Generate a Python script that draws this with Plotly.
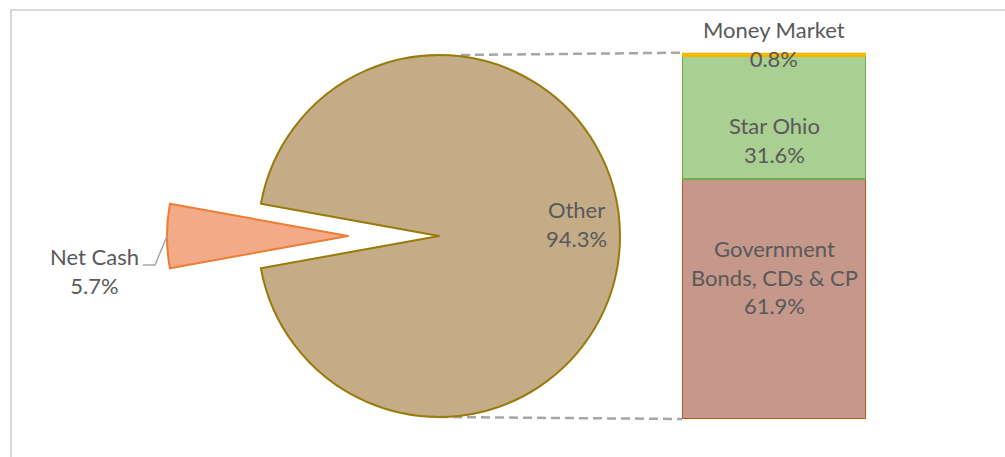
import plotly.graph_objects as go

# ---------------- data ----------------
pie_labels = ["Net Cash", "Other"]
pie_values = [5.7, 94.3]
pie_text = ["5.7%", "94.3%"]

bar_labels = ["Government<br>Bonds, CDs & CP", "Star Ohio", "Money Market"]
bar_values = [61.9, 31.6, 0.8]
bar_text = ["61.9%", "31.6%", "0.8%"]

# ---------------- styling / geometry ----------------
W, H = 1005, 457
CX, CY, R = 439, 236, 181          # main pie centre / radius (px)
PULL = 91                          # explode distance of Net Cash (px)
BAR_X0, BAR_X1 = 682, 866          # bar left/right (px)
BAR_TOP, BAR_BOT = 52.7, 419       # bar top/bottom (px)

FONT = "Lato, 'Open Sans', sans-serif"
TXT = "#595959"
FS = 22

pie_fill = ["#F3AA88", "#C4AC87"]
pie_line = ["#ED7D31", "#9A7A0A"]
bar_fill = ["#C5988B", "#A9CF92", "#FFC000"]
bar_line = ["#B4581E", "#70AD47", "#F0B400"]


def px_x(x):
    return x / W


def px_y(y):
    return (H - y) / H


total = sum(pie_values)
net_angle = pie_values[0] / total * 360
rot = 270 - net_angle / 2
if rot > 180:
    rot -= 360

fig = go.Figure()

# main pie: "Other" visible, Net Cash hidden
fig.add_trace(go.Pie(
    labels=pie_labels, values=pie_values, sort=False, direction="clockwise",
    rotation=rot, textinfo="none", hoverinfo="label+percent",
    marker=dict(colors=["rgba(0,0,0,0)", pie_fill[1]],
                line=dict(color=["rgba(0,0,0,0)", pie_line[1]], width=[0, 2])),
    domain=dict(x=[px_x(CX - R), px_x(CX + R)], y=[px_y(CY + R), px_y(CY - R)]),
    showlegend=False,
))

# exploded Net Cash slice
CX2 = CX - PULL
fig.add_trace(go.Pie(
    labels=pie_labels, values=pie_values, sort=False, direction="clockwise",
    rotation=rot, textinfo="none", hoverinfo="label+percent",
    marker=dict(colors=[pie_fill[0], "rgba(0,0,0,0)"],
                line=dict(color=[pie_line[0], "rgba(0,0,0,0)"], width=[2, 0])),
    domain=dict(x=[px_x(CX2 - R), px_x(CX2 + R)], y=[px_y(CY + R), px_y(CY - R)]),
    showlegend=False,
))

# stacked bar of "Other"
for lab, v, fc, lc in zip(bar_labels, bar_values, bar_fill, bar_line):
    fig.add_trace(go.Bar(
        x=[0], y=[v], width=1, name=lab,
        marker=dict(color=fc, line=dict(color=lc, width=2)),
        hoverinfo="name+y", showlegend=False,
    ))

bar_total = sum(bar_values)

fig.update_layout(
    width=W, height=H,
    margin=dict(l=0, r=0, t=0, b=0),
    paper_bgcolor="white", plot_bgcolor="white",
    barmode="stack", bargap=0,
    xaxis=dict(domain=[px_x(BAR_X0), px_x(BAR_X1)], range=[-0.5, 0.5],
               visible=False, fixedrange=True),
    yaxis=dict(domain=[px_y(BAR_BOT), px_y(BAR_TOP)], range=[0, bar_total],
               visible=False, fixedrange=True),
    font=dict(family=FONT, color=TXT, size=FS),
)

shapes = []
# outer frame
shapes.append(dict(type="rect", xref="paper", yref="paper",
                   x0=px_x(11), x1=1.05, y0=-0.05, y1=px_y(10),
                   line=dict(color="#D9D9D9", width=2), fillcolor="rgba(0,0,0,0)",
                   layer="below"))
# connector lines pie -> bar
dash_line = dict(color="#A6A6A6", width=2.5, dash="9px,5px")
shapes.append(dict(type="line", xref="paper", yref="paper",
                   x0=px_x(CX + 22), y0=px_y(CY - R), x1=px_x(BAR_X0), y1=px_y(BAR_TOP),
                   line=dash_line, layer="below"))
shapes.append(dict(type="line", xref="paper", yref="paper",
                   x0=px_x(CX), y0=px_y(CY + R), x1=px_x(BAR_X0), y1=px_y(BAR_BOT),
                   line=dash_line, layer="below"))
# Net Cash leader line
lx = CX2 - R
path = "M {} {} L {} {} L {} {}".format(
    px_x(lx), px_y(CY), px_x(lx - 12), px_y(CY + 29), px_x(lx - 24), px_y(CY + 29))
shapes.append(dict(type="path", xref="paper", yref="paper", path=path,
                   line=dict(color="#A6A6A6", width=1.5)))
fig.update_layout(shapes=shapes)

ann = []
# pie labels
ann.append(dict(xref="paper", yref="paper", x=px_x(lx - 26), y=px_y(270.5),
                xanchor="right", yanchor="middle", align="center", showarrow=False,
                text=f"{pie_labels[0]}<br>{pie_text[0]}"))
ann.append(dict(xref="paper", yref="paper", x=px_x(576), y=px_y(224),
                xanchor="center", yanchor="middle", align="center", showarrow=False,
                text=f"{pie_labels[1]}<br>{pie_text[1]}"))
# bar labels
cum = 0
shifts = [22, -23, 9]
for lab, v, t, s in zip(bar_labels, bar_values, bar_text, shifts):
    mid = cum + v / 2 if lab != bar_labels[-1] else cum + v
    ann.append(dict(xref="x", yref="y", x=0, y=mid, yshift=s,
                    xanchor="center", yanchor="middle", align="center",
                    showarrow=False, text=f"{lab}<br>{t}"))
    cum += v
fig.update_layout(annotations=ann)

fig.write_html("out.html", config={"displayModeBar": False},
               post_script="document.body.style.margin='0';document.body.style.padding='0';")
